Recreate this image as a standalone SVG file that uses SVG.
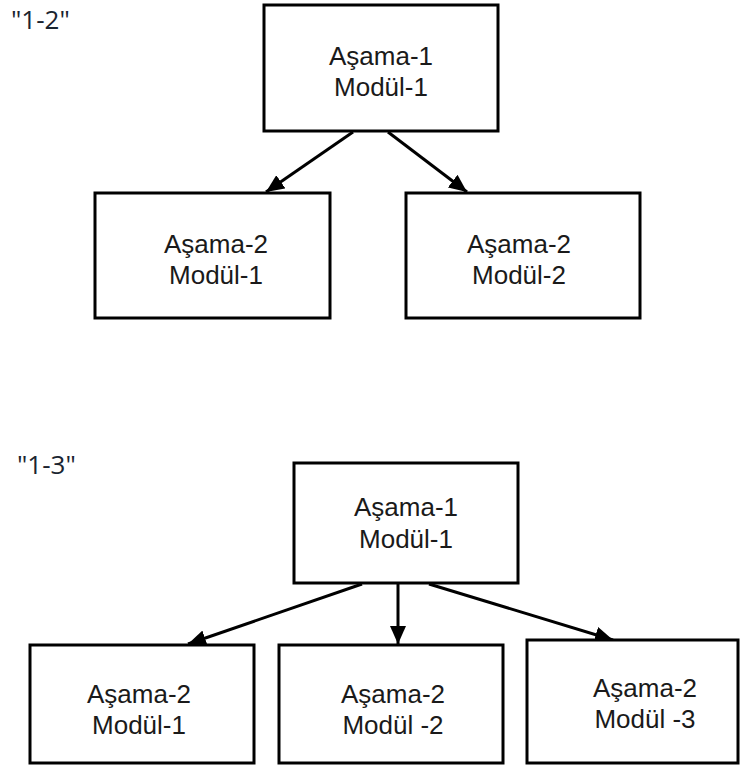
<svg xmlns="http://www.w3.org/2000/svg" width="740" height="765" viewBox="0 0 740 765">
  <style>
    .box { fill: #ffffff; stroke: #000000; stroke-width: 3; }
    .t { font-family: "Liberation Sans", Arial, sans-serif; font-size: 26px; fill: #1a1a1a; text-anchor: middle; }
    .lbl { font-family: "Open Sans", "Noto Sans", sans-serif; font-size: 26px; fill: #1a2430; }
    .edge { stroke: #000000; stroke-width: 3; fill: none; marker-end: url(#ah); }
  </style>
  <defs>
    <marker id="ah" markerUnits="userSpaceOnUse" markerWidth="20" markerHeight="16" refX="18" refY="8" orient="auto">
      <path d="M0,0 L18,8 L0,16 z" fill="#000000"/>
    </marker>
  </defs>
  <rect x="0" y="0" width="740" height="765" fill="#ffffff"/>

  <text class="lbl" x="11" y="29">"1-2"</text>
  <text class="lbl" x="17" y="474">"1-3"</text>

  <g id="connectors">
    <line class="edge" x1="353" y1="132" x2="266" y2="192"/>
    <line class="edge" x1="388" y1="132" x2="467" y2="192"/>
    <line class="edge" x1="362" y1="584" x2="188" y2="644"/>
    <line class="edge" x1="398" y1="584" x2="398" y2="644"/>
    <line class="edge" x1="429" y1="584" x2="613" y2="640"/>
  </g>

  <g id="top-a1m1">
    <rect class="box" x="264" y="5" width="234" height="126"/>
    <text class="t" x="381" y="65">Aşama-1</text>
    <text class="t" x="381" y="96">Modül-1</text>
  </g>
  <g id="top-a2m1">
    <rect class="box" x="95" y="193" width="235" height="125"/>
    <text class="t" x="216" y="253">Aşama-2</text>
    <text class="t" x="216" y="284">Modül-1</text>
  </g>
  <g id="top-a2m2">
    <rect class="box" x="406" y="193" width="234" height="125"/>
    <text class="t" x="519" y="253">Aşama-2</text>
    <text class="t" x="519" y="284">Modül-2</text>
  </g>

  <g id="bot-a1m1">
    <rect class="box" x="294" y="463" width="224" height="120"/>
    <text class="t" x="406" y="516">Aşama-1</text>
    <text class="t" x="406" y="548">Modül-1</text>
  </g>
  <g id="bot-a2m1">
    <rect class="box" x="30" y="645" width="224" height="118"/>
    <text class="t" x="139" y="703">Aşama-2</text>
    <text class="t" x="139" y="734">Modül-1</text>
  </g>
  <g id="bot-a2m2">
    <rect class="box" x="279" y="645" width="224" height="118"/>
    <text class="t" x="393" y="703">Aşama-2</text>
    <text class="t" x="393" y="734">Modül -2</text>
  </g>
  <g id="bot-a2m3">
    <rect class="box" x="527" y="640" width="211" height="123"/>
    <text class="t" x="645" y="697">Aşama-2</text>
    <text class="t" x="645" y="728">Modül -3</text>
  </g>
</svg>
